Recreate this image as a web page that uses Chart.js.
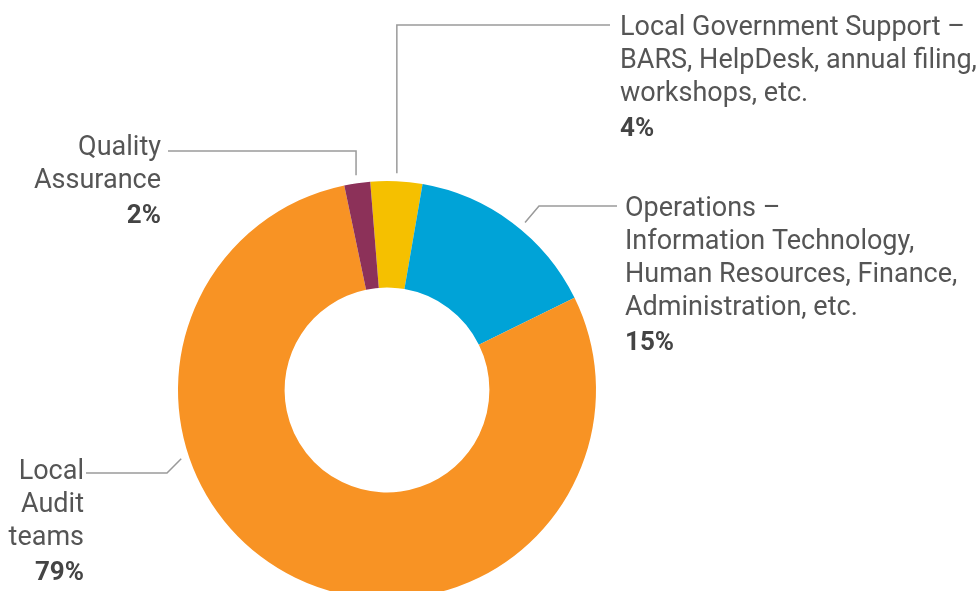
<!DOCTYPE html>
<html>
<head>
<meta charset="utf-8">
<script src="https://cdn.jsdelivr.net/npm/chart.js@4"></script>
<style>
  html, body { margin: 0; padding: 0; background: #fff; overflow: hidden; }
  #wrap { position: absolute; left: 0; top: 0; width: 979px; height: 640px; }
</style>
</head>
<body>
<div id="wrap"><canvas id="donut"></canvas></div>
<script>
// data, clockwise from the top
const categories = [
  'Local Government Support – BARS, HelpDesk, annual filing, workshops, etc.',
  'Operations – Information Technology, Human Resources, Finance, Administration, etc.',
  'Local Audit teams',
  'Quality Assurance'
];
const shares = [4, 15, 79, 2];
const sliceColors = ['#F5C000', '#00A3D7', '#F89324', '#8C3159'];

// label text lines for each slice (same order as above)
const labelLines = [
  ['Local Government Support –', 'BARS, HelpDesk, annual filing,', 'workshops, etc.'],
  ['Operations –', 'Information Technology,', 'Human Resources, Finance,', 'Administration, etc.'],
  ['Local', 'Audit', 'teams'],
  ['Quality', 'Assurance']
];

// where the label text sits and how the leader line bends
const labelLayout = [
  { x: 620, y: 35, align: 'left',  lineY: 25,  lineX: 610, t: 0.5, elbow: 'vertical' },
  { x: 625, y: 216, align: 'left', lineY: 206, lineX: 617, t: 0.55, elbow: 'diag', elbowX: 539 },
  { x: 84,  y: 479, align: 'right', lineY: 473, lineX: 86, t: 0.66, elbow: 'diag', elbowX: 167 },
  { x: 161, y: 155, align: 'right', lineY: 151, lineX: 168, t: 0.5, elbow: 'vertical' }
];

const calloutPlugin = {
  id: 'callouts',
  afterDraw(chart) {
    const c = chart.ctx;
    const arcs = chart.getDatasetMeta(0).data;
    const lineH = 33;
    arcs.forEach((arc, i) => {
      const p = arc.getProps(['x', 'y', 'startAngle', 'endAngle', 'outerRadius'], true);
      const L = labelLayout[i];
      const a = p.startAngle + (p.endAngle - p.startAngle) * L.t;
      const r = p.outerRadius + 8;
      const ax = p.x + Math.cos(a) * r;
      const ay = p.y + Math.sin(a) * r;

      c.save();
      c.strokeStyle = '#9a9a9a';
      c.lineWidth = 1.5;
      c.beginPath();
      c.moveTo(L.lineX, L.lineY);
      if (L.elbow === 'vertical') {
        c.lineTo(ax, L.lineY);
      } else {
        c.lineTo(L.elbowX, L.lineY);
      }
      c.lineTo(ax, ay);
      c.stroke();

      c.textAlign = L.align;
      c.textBaseline = 'alphabetic';
      c.fillStyle = '#555555';
      c.font = '400 27px Roboto';
      const lines = labelLines[i];
      lines.forEach((ln, k) => c.fillText(ln, L.x, L.y + k * lineH));
      c.fillStyle = '#444444';
      c.font = '700 26px Roboto';
      c.fillText(shares[i] + '%', L.x, L.y + lines.length * lineH + 2);
      c.restore();
    });
  }
};

new Chart(document.getElementById('donut'), {
  type: 'doughnut',
  data: {
    labels: categories,
    datasets: [{
      data: shares,
      backgroundColor: sliceColors,
      borderWidth: 0,
      hoverOffset: 0
    }]
  },
  options: {
    responsive: true,
    maintainAspectRatio: false,
    animation: false,
    rotation: -4.6,
    cutout: '49%',
    layout: { padding: { left: 178, right: 383, top: 181, bottom: 41 } },
    plugins: {
      legend: { display: false },
      tooltip: { enabled: false }
    }
  },
  plugins: [calloutPlugin]
});
</script>
</body>
</html>
